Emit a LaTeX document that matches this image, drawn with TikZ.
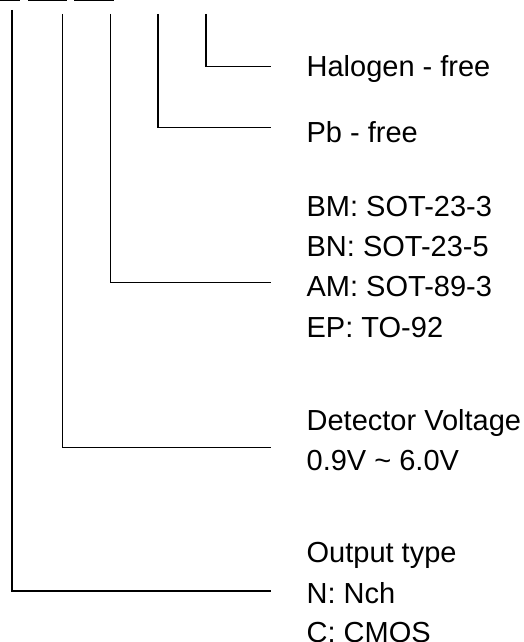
\documentclass[tikz,border=0pt]{standalone}
\usepackage{fontspec}
\setmainfont{Liberation Sans}
\usepackage{tikz}

\begin{document}
\begin{tikzpicture}[x=1pt, y=-1pt, line width=1.3pt,
  lbl/.style={anchor=base west, inner sep=0pt, font=\fontsize{29}{34}\selectfont}]
\useasboundingbox (0,0) rectangle (523,642);

\draw (0,0.8) -- (20,0.8);
\draw (28,0.8) -- (67,0.8);
\draw (74,0.8) -- (114,0.8);

\coordinate (v1) at (12,10);
\coordinate (v2) at (62.5,14);
\coordinate (v3) at (110.7,14);
\coordinate (v4) at (158,14);
\coordinate (v5) at (206,14);

\coordinate (h1) at (271,591);
\coordinate (h2) at (271,447.3);
\coordinate (h3) at (271,282.7);
\coordinate (h4) at (271,127.7);
\coordinate (h5) at (271,66.7);

\node[lbl] (halo) at (306,76) {Halogen - free};
\node[lbl] (pb) at (306,142.3) {Pb - free};
\node[lbl] (bm) at (306,216.7) {BM: SOT-23-3};
\node[lbl] (bn) at (306,256.7) {BN: SOT-23-5};
\node[lbl] (am) at (306,296.7) {AM: SOT-89-3};
\node[lbl] (ep) at (306,337.3) {EP: TO-92};
\node[lbl] (det) at (306,430.7) {Detector Voltage};
\node[lbl] (rng) at (306,470.7) {0.9V \textasciitilde{} 6.0V};
\node[lbl] (out) at (306,562.7) {Output type};
\node[lbl] (nch) at (306,603) {N: Nch};
\node[lbl] (cmos) at (306,642) {C: CMOS};

\draw (v1) |- (h1);
\draw (v2) |- (h2);
\draw (v3) |- (h3);
\draw (v4) |- (h4);
\draw (v5) |- (h5);
\end{tikzpicture}
\end{document}
